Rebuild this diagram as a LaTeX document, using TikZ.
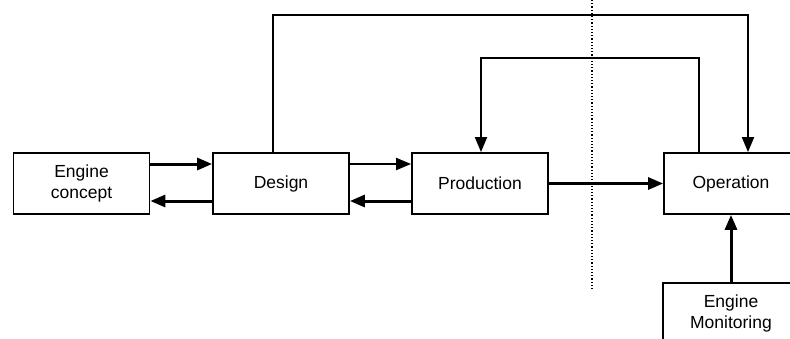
\documentclass[tikz,border=0pt]{standalone}
\usepackage{fontspec}
\setmainfont{Liberation Sans}
\usetikzlibrary{arrows.meta}

\begin{document}
\begin{tikzpicture}[x=1pt,y=-1pt]
\clip (0,0) rectangle (790,338);
\begin{scope}
\tikzstyle{every node}=[shape=rectangle, draw, line width=1.8pt, minimum width=136pt, minimum height=61pt, align=center, font=\fontsize{17.5}{21}\selectfont];
\tikzstyle{flow}=[line width=3pt, -{Triangle[length=15pt,width=12pt]}];
\tikzstyle{thin}=[line width=1.9pt, -{Triangle[length=15pt,width=12pt]}];
\draw (81.5,183.5) node (concept) {Engine\\concept};
\draw (281,183.5) node (design) {Design};
\draw (480,183.5) node (prod) {Production};
\draw (731,183.5) node[minimum width=134pt] (oper) {Operation};
\draw (731,313.5) node (monit) {Engine\\Monitoring};

\draw[dotted, line width=1.2pt] (592,0) -- (592,290);

\draw[flow] (concept.east |- 0,164) -- (design.west |- 0,164);
\draw[flow] (design.west |- 0,201) -- (concept.east |- 0,201);
\draw[thin] (design.east |- 0,164) -- (prod.west |- 0,164);
\draw[flow] (prod.west |- 0,201) -- (design.east |- 0,201);
\draw[flow] (prod) -- (oper);
\draw[flow] (monit) -- (oper);
\draw[thin] (design.north -| 273,0) -- (273,15) -- (748,15) -- (oper.north -| 748,0);
\draw[thin] (oper.north -| 699,0) -- (699,58) -- (481,58) -- (prod.north -| 481,0);
\end{scope}
\end{tikzpicture}
\end{document}
